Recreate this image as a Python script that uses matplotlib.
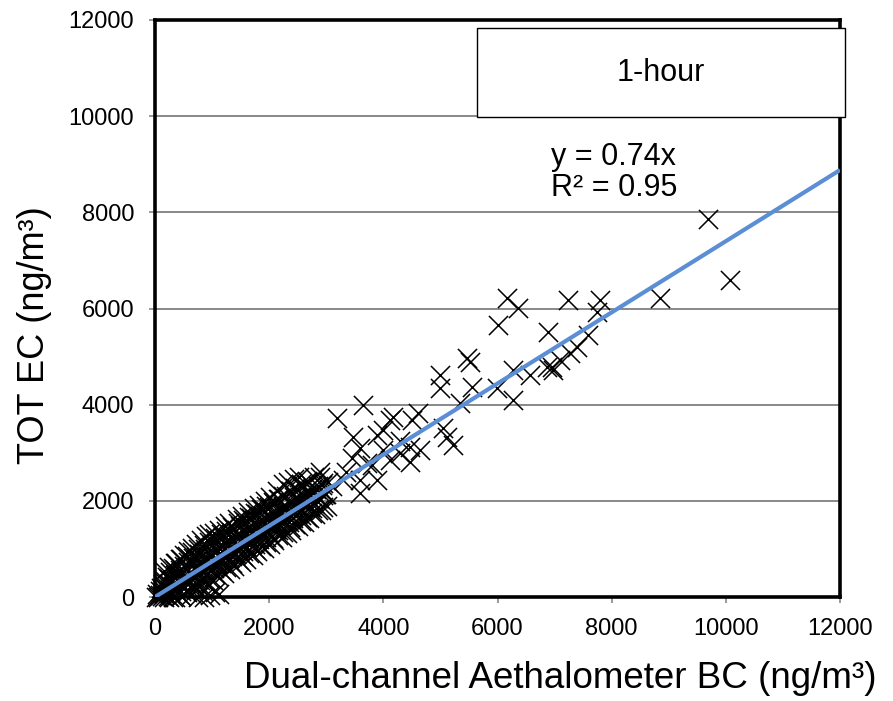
import matplotlib
matplotlib.use("Agg")
import matplotlib.pyplot as plt
import matplotlib.patches as patches
import numpy as np

plt.rcParams['font.family'] = ['Liberation Sans', 'DejaVu Sans']

# dense cloud, BC (x) and EC (y) in ng/m3
bc_low = [20, 40, 60, 80, 90, 110, 130, 140, 160, 170,
          190, 210, 220, 240, 260, 270, 290, 310, 320, 340,
          360, 370, 390, 410, 430, 440, 460, 480, 500, 510,
          530, 550, 570, 580, 600, 620, 640, 650, 670, 690,
          700, 720, 740, 760, 770, 790, 810, 820, 840, 860,
          880, 890, 910, 930, 950, 960, 980, 990, 850, 1050,
          1120, 620, 720, 540, 450, 350, 250, 150, 780, 680]
ec_low = [10, 60, 0, 120, 40, 180, 20, 260, 90, 340,
          150, 420, 20, 260, 520, 90, 360, 610, 0, 200,
          470, 700, 110, 330, 780, 560, 30, 240, 640, 880,
          400, 120, 960, 720, 300, 520, 1020, 60, 820, 420,
          200, 1100, 620, 0, 900, 360, 1180, 700, 120, 520,
          1000, 1260, 280, 780, 1300, 40, 560, 1080, 0, 100,
          60, 780, 840, 300, 120, 560, 380, 200, 500, 250]

bc_mid = [1020, 1040, 990, 1060, 1030,
          1110, 1090, 1130, 1080, 1120,
          1210, 1180, 1230, 1190, 1220,
          1310, 1290, 1280, 1330, 1300,
          1390, 1420, 1410, 1380, 1430,
          1510, 1480, 1520, 1490, 1530,
          1590, 1620, 1610, 1580, 1630,
          1720, 1690, 1710, 1680, 1730,
          1790, 1820, 1810, 1780, 1830,
          1910, 1880, 1920, 1890, 1930,
          2010, 1980, 2030, 1990, 2020,
          2090, 2120, 2110, 2080, 2130,
          2220, 2190, 2210, 2180, 2240,
          2310, 2280, 2320, 2290, 2330,
          2390, 2420, 2410, 2380, 2430,
          2510, 2480, 2520, 2490, 2530,
          2610, 2580, 2620, 2590,
          2690, 2720, 2710, 2680,
          2810, 2790, 2820, 2780,
          2910, 2880, 2920, 2890,
          3010, 2980, 3030,
          1250, 1450, 1650, 1850, 2050, 2250, 2450, 2650, 1350, 1550,
          1750, 1950, 2150, 2350, 2550, 2750, 1150, 1050]
ec_mid = [360, 600, 850, 1100, 1330,
          430, 700, 920, 1180, 1400,
          500, 760, 1000, 1250, 1480,
          590, 820, 1080, 1350, 1540,
          650, 900, 1150, 1420, 1620,
          720, 980, 1230, 1480, 1680,
          800, 1050, 1300, 1560, 1760,
          880, 1120, 1380, 1650, 1850,
          950, 1200, 1450, 1720, 1920,
          1020, 1280, 1530, 1800, 2000,
          1100, 1350, 1600, 1880, 2080,
          1180, 1420, 1680, 1950, 2200,
          1250, 1500, 1760, 2030, 2350,
          1330, 1580, 1850, 2100, 2400,
          1400, 1650, 1920, 2200, 2450,
          1480, 1720, 2000, 2250, 2500,
          1560, 1800, 2080, 2320,
          1650, 1880, 2150, 2400,
          1720, 1960, 2250, 2500,
          1800, 2050, 2320, 2600,
          1900, 2150, 2400,
          1150, 1300, 1450, 1600, 1750, 1900, 2050, 2200, 850, 950,
          1100, 1250, 1400, 1550, 1700, 1850, 700, 650]

# extra points filling the solid part of the cloud
bc_fill = [160, 160, 160, 160, 250, 250, 250, 250, 350, 350, 350, 350,
           450, 450, 450, 450, 560, 560, 560, 560, 650, 650, 650, 650,
           750, 750, 750, 750, 860, 860, 860, 860, 950, 950, 950, 950,
           1050, 1050, 1050, 1050, 1160, 1160, 1160, 1160,
           1250, 1250, 1250, 1250, 1350, 1350, 1350, 1350,
           1460, 1460, 1460, 1460, 1550, 1550, 1550, 1550,
           1650, 1650, 1650, 1650, 1760, 1760, 1760, 1760,
           1850, 1850, 1850, 1850, 1950, 1950, 1950, 1950,
           2060, 2060, 2060, 2060, 2150, 2150, 2150, 2150,
           2250, 2250, 2250, 2250, 2360, 2360, 2360, 2360,
           2450, 2450, 2450, 2450, 2550, 2550, 2550, 2550,
           2660, 2660, 2660, 2660, 2750, 2750, 2750,
           2850, 2850, 2850, 2950, 2950, 2950]
ec_fill = [0, 70, 320, 540, 0, 140, 380, 620, 0, 210, 460, 700,
           30, 280, 530, 780, 110, 360, 610, 860, 180, 430, 680, 930,
           250, 500, 760, 1000, 330, 590, 840, 1080, 400, 650, 900, 1150,
           480, 730, 980, 1230, 560, 810, 1060, 1300,
           620, 880, 1130, 1370, 700, 950, 1200, 1450,
           780, 1030, 1280, 1530, 850, 1100, 1350, 1600,
           920, 1170, 1420, 1670, 1000, 1250, 1500, 1750,
           1070, 1320, 1570, 1820, 1140, 1390, 1640, 1890,
           1220, 1470, 1720, 1970, 1290, 1540, 1790, 2040,
           1360, 1610, 1860, 2110, 1450, 1700, 1950, 2200,
           1510, 1760, 2010, 2260, 1590, 1840, 2090, 2340,
           1670, 1920, 2170, 2420, 1740, 1990, 2240,
           1810, 2060, 2310, 1880, 2130, 2380]

# sparse points above ~3000 ng/m3
bc_high = [2890, 3190, 3290, 3470, 3590, 3590, 3590, 3640, 3710, 3890,
           3890, 3990, 4000, 4120, 4120, 4170, 4290, 4470, 4470, 4500,
           4610, 4640, 4990, 4990, 5050, 5120, 5220, 5340, 5470, 5520,
           5550, 5990, 6010, 6170, 6270, 6270, 6360, 6570, 6870, 6890,
           6960, 6970, 7100, 7240, 7270, 7390, 7590, 7740, 7800, 8850,
           9690, 10080, 3100, 3350, 3800, 4300, 3000, 3450]
ec_high = [2500, 3720, 2430, 3330, 3100, 2430, 2160, 3990, 2790, 3370,
           2430, 3060, 3470, 3680, 2850, 3740, 2990, 3120, 2810, 3680,
           3830, 3060, 4620, 4350, 3520, 3330, 3160, 4040, 4970, 4890,
           4370, 4350, 5660, 6220, 4720, 4100, 6010, 4620, 4780, 5510,
           4780, 4720, 4930, 6180, 5080, 5200, 5450, 5930, 6180, 6220,
           7870, 6600, 2300, 2600, 2750, 3250, 2150, 2900]

slope = 0.74
fit_x = np.array([0, 12000])

fig = plt.figure(figsize=(8.93, 7.01), dpi=100)
ax = fig.add_axes([155 / 893, 104 / 701, 685 / 893, 577 / 701])

ax.set_xlim(0, 12000)
ax.set_ylim(0, 12000)
ax.set_xticks(np.arange(0, 12001, 2000))
ax.set_yticks(np.arange(0, 12001, 2000))
ax.yaxis.grid(True, color='#888888', linewidth=1.4)
ax.set_axisbelow(True)
ax.tick_params(axis='both', which='major', length=4, color='#888888',
               width=1.2, pad=11)
ax.tick_params(axis='x', labelsize=17)
ax.tick_params(axis='y', labelsize=17)

for sp in ax.spines.values():
    sp.set_linewidth(2.6)
    sp.set_color('black')

for xs, ys in [(bc_low, ec_low), (bc_mid, ec_mid), (bc_fill, ec_fill),
               (bc_high, ec_high)]:
    ax.scatter(xs, ys, marker='x', s=190, c='black', linewidths=1.1,
               zorder=3, clip_on=False)

ax.plot(fit_x, slope * fit_x, color='#5B8ED5', linewidth=3, zorder=4,
        solid_capstyle='butt')

ax.text(0.578, 0.736, 'y = 0.74x\nR² = 0.95', transform=ax.transAxes,
        fontsize=22, ha='left', va='center', linespacing=1.05, zorder=6)

box = patches.Rectangle((0.470, 0.832), 0.537, 0.154, transform=ax.transAxes,
                        facecolor='white', edgecolor='black', linewidth=1.0,
                        clip_on=False, zorder=7)
ax.add_patch(box)
ax.text(0.7385, 0.909, '1-hour', transform=ax.transAxes, fontsize=22,
        ha='center', va='center', zorder=8)

fig.text(560 / 893, 1 - 688 / 701, 'Dual-channel Aethalometer BC (ng/m³)',
         fontsize=26.5, ha='center', va='baseline')
fig.text(35 / 893, 1 - 335 / 701, 'TOT EC (ng/m³)', fontsize=26,
         rotation=90, ha='center', va='center')

fig.savefig('out.png', dpi=100)
